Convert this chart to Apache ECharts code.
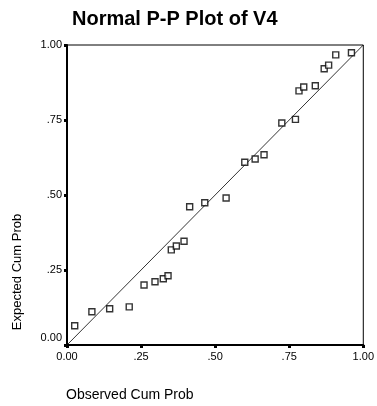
<!DOCTYPE html>
<html>
<head>
<meta charset="utf-8">
<script src="https://cdn.jsdelivr.net/npm/echarts@6/dist/echarts.min.js"></script>
<style>
  html, body { margin: 0; padding: 0; background: #fff; }
  #chart { width: 377px; height: 406px; }
</style>
</head>
<body>
<div id="chart"></div>
<script>
// observed vs expected cumulative probabilities
const observed = [0.026, 0.084, 0.144, 0.21, 0.26, 0.297, 0.325, 0.341, 0.352, 0.369, 0.395, 0.414, 0.465,
                  0.537, 0.60, 0.635, 0.665, 0.725, 0.771, 0.783, 0.799, 0.838, 0.868, 0.883, 0.907, 0.96];
const expected = [0.064, 0.111, 0.121, 0.127, 0.20, 0.211, 0.221, 0.231, 0.317, 0.33, 0.346, 0.461, 0.474,
                  0.49, 0.609, 0.62, 0.634, 0.74, 0.752, 0.847, 0.86, 0.864, 0.921, 0.933, 0.967, 0.974];
const refLine = [[0, 0], [1, 1]];
const tickLabels = ['0.00', '.25', '.50', '.75', '1.00'];

const font = 'Liberation Sans, Arial, sans-serif';
const points = observed.map((x, i) => [x, expected[i]]);

const chart = echarts.init(document.getElementById('chart'));
const tickFmt = function (v) {
    return tickLabels[Math.round(v * 4)];
};

const option = {
    backgroundColor: '#fff',
    animation: false,
    title: {
        text: 'Normal P-P Plot of V4',
        left: 67,
        top: 4,
        textStyle: { fontFamily: font, fontSize: 20, fontWeight: 'bold', color: '#000' }
    },
    grid: {
        left: 67, right: 6, top: 45, bottom: 61,
        show: true,
        borderColor: '#000',
        borderWidth: 1
    },
    xAxis: {
        type: 'value',
        min: 0, max: 1, interval: 0.25,
        axisLine: { onZero: false, lineStyle: { color: '#000', width: 2 } },
        axisTick: { length: 3, lineStyle: { color: '#000', width: 3 } },
        axisLabel: {
            formatter: tickFmt, margin: 6,
            fontFamily: font, fontSize: 11, color: '#000'
        },
        splitLine: { show: false }
    },
    yAxis: {
        type: 'value',
        min: 0, max: 1, interval: 0.25,
        axisLine: { onZero: false, lineStyle: { color: '#000', width: 2 } },
        axisTick: { length: 3, lineStyle: { color: '#000', width: 3 } },
        axisLabel: {
            formatter: function (v) {
                return v === 0 ? '{z|0.00}' : tickFmt(v);
            },
            rich: { z: { fontFamily: font, fontSize: 11, color: '#000', padding: [0, 0, 14, 0] } },
            margin: 5,
            fontFamily: font, fontSize: 11, color: '#000'
        },
        splitLine: { show: false }
    },
    graphic: [
        {
            type: 'text', x: 17, y: 272, rotation: Math.PI / 2,
            style: {
                text: 'Expected Cum Prob', fill: '#000', font: '13px ' + font,
                textAlign: 'center', textVerticalAlign: 'middle'
            }
        },
        {
            type: 'text', x: 66, y: 395,
            style: {
                text: 'Observed Cum Prob', fill: '#000', font: '14px ' + font,
                textAlign: 'left', textVerticalAlign: 'middle'
            }
        }
    ],
    series: [
        {
            type: 'line',
            data: refLine,
            symbol: 'none',
            lineStyle: { color: '#000', width: 0.8 },
            z: 1
        },
        {
            type: 'scatter',
            data: points,
            symbol: 'rect',
            symbolSize: 6,
            itemStyle: { color: '#fff', borderColor: '#000', borderWidth: 1.4 },
            z: 3
        }
    ]
};
chart.setOption(option);
</script>
</body>
</html>
